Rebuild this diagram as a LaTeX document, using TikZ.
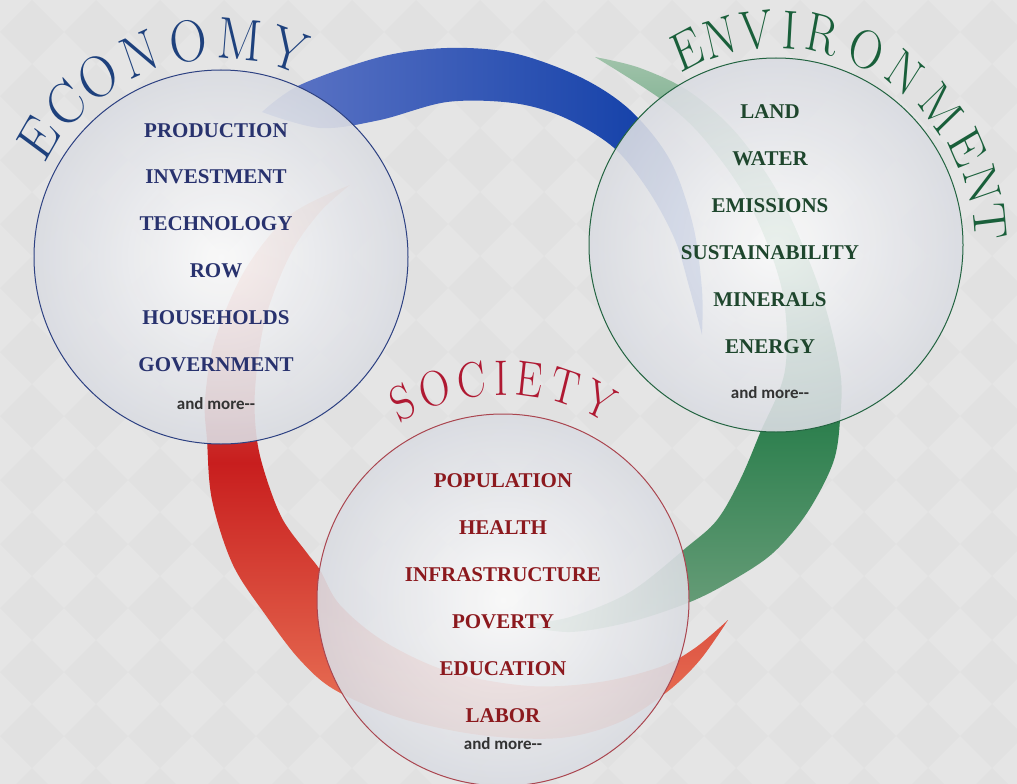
\documentclass[tikz,border=0pt]{standalone}
\usepackage{fontspec}
\usetikzlibrary{calc}
\newfontfamily\itemfont{Liberation Serif}
\newfontfamily\morefont{Carlito}
\definecolor{bgA}{RGB}{225,225,225}
\definecolor{bgB}{RGB}{229,229,229}
\definecolor{econT}{RGB}{30,65,125}
\definecolor{econI}{RGB}{40,50,110}
\definecolor{econL}{RGB}{45,65,130}
\definecolor{envT}{RGB}{25,95,58}
\definecolor{envI}{RGB}{30,70,45}
\definecolor{envL}{RGB}{35,100,65}
\definecolor{socT}{RGB}{175,25,50}
\definecolor{socI}{RGB}{140,25,30}
\definecolor{socL}{RGB}{170,70,80}
\definecolor{blueA}{RGB}{95,118,198}
\definecolor{blueB}{RGB}{10,58,165}
\definecolor{redA}{RGB}{225,165,140}
\definecolor{redM}{RGB}{200,30,30}
\definecolor{redB}{RGB}{235,120,90}
\definecolor{grnA}{RGB}{160,195,170}
\definecolor{grnM}{RGB}{20,115,60}
\definecolor{grnB}{RGB}{110,160,125}
\definecolor{ballIn}{RGB}{251,251,251}
\definecolor{ballOut}{RGB}{218,220,226}
\begin{document}
\begin{tikzpicture}[x=1pt,y=-1pt,
  item/.style={font=\itemfont\bfseries\fontsize{21}{21}\selectfont, anchor=base, inner sep=0pt},
  more/.style={font=\morefont\bfseries\fontsize{17}{17}\selectfont, text=black!80, anchor=base, inner sep=0pt},
  ttl/.style={inner sep=0pt, anchor=center},
  ball/.style={inner color=ballIn, outer color=ballOut, opacity=0.9},
  rim/.style={line width=1pt},
  smoothplot/.style={smooth, tension=0.55}
]
\useasboundingbox (0,0) rectangle (1017,784);
\clip (0,0) rectangle (1017,784);
\fill[bgA] (0,0) rectangle (1017,784);
\foreach \i in {0,...,16} \foreach \j in {0,...,13}
  \fill[bgB] (64*\i-32,64*\j) -- (64*\i,64*\j-32) -- (64*\i+32,64*\j) -- (64*\i,64*\j+32) -- cycle;

\coordinate (E) at (221,257);
\coordinate (V) at (776,245);
\coordinate (S) at (503,600);

% blue swoosh
\shade[left color=blueA, right color=blueB]
  plot[smoothplot] coordinates {(262,112) (300,85) (380,57) (447,48) (513,53) (580,77) (630,110) (670,160) (693,225) (702,290) (702,335)}
  -- plot[smoothplot] coordinates {(702,335) (690,290) (675,240) (648,190) (613,147) (563,117) (513,103) (447,102) (380,120) (320,128) (262,112)}
  -- cycle;
% red swoosh
\shade[top color=redA, bottom color=redB, middle color=redM]
  plot[smoothplot] coordinates {(350,185) (290,215) (245,270) (215,340) (205,400) (207,440) (212,500) (233,565) (267,617) (300,660) (335,690) (400,718) (480,735) (560,738) (620,722) (667,692) (700,660) (728,620)}
  -- plot[smoothplot] coordinates {(728,620) (695,648) (660,667) (600,682) (530,686) (450,672) (385,642) (340,605) (320,570) (307,553) (283,520) (267,480) (257,440) (255,390) (265,320) (290,255) (320,212) (350,185)}
  -- cycle;
% green swoosh
\shade[top color=grnA, bottom color=grnB, middle color=grnM]
  plot[smoothplot] coordinates {(595,57) (640,68) (690,92) (738,135) (782,200) (820,290) (840,370) (840,420) (833,463) (807,513) (773,553) (733,580) (690,602) (630,622) (570,632) (520,625)}
  -- plot[smoothplot] coordinates {(520,625) (570,617) (630,592) (687,547) (717,520) (740,480) (760,433) (785,370) (782,290) (750,205) (705,140) (662,100) (595,57)}
  -- cycle;

% spheres
\shade[ball] (E) circle[radius=187];
\draw[econL, rim] (E) circle[radius=187];
\shade[ball] (V) circle[radius=187];
\draw[envL, rim] (V) circle[radius=187];
\shade[ball] (S) circle[radius=186];
\draw[socL, rim] (S) circle[radius=186];

% curved titles, letter by letter
\foreach \ch/\a [count=\k] in {E/146.9, C/135.5, O/124.2, N/111.8, O/98.6, M/85.0, Y/71.7}
  \node[ttl, text=econT, font=\fontsize{59}{59}\selectfont, xscale=0.88, rotate=\a-90]
    (econ\k) at ($(E)+(-\a:218)$) {\ch};
\foreach \ch/\a [count=\k] in {E/114.5, N/105.0, V/95.3, I/86.3, R/77.6, O/65.0, N/53.0, M/39.5, E/27.0, N/16.5, T/6.1}
  \node[ttl, text=envT, font=\fontsize{55}{55}\selectfont, xscale=0.85, rotate=\a-90]
    (env\k) at ($(V)+(-\a:215)$) {\ch};
\foreach \ch/\a [count=\k] in {S/117.0, O/108.0, C/98.1, I/90.5, E/83.1, T/73.8, Y/64.1}
  \node[ttl, text=socT, font=\fontsize{50}{50}\selectfont, xscale=0.85, rotate=\a-90]
    (soc\k) at ($(S)+(-\a:222)$) {\ch};

% economy items
\node[item, text=econI] (e1) at (216,137) {PRODUCTION};
\node[item, text=econI] (e2) at (216,183) {INVESTMENT};
\node[item, text=econI] (e3) at (216,230) {TECHNOLOGY};
\node[item, text=econI] (e4) at (216,277) {ROW};
\node[item, text=econI] (e5) at (216,324) {HOUSEHOLDS};
\node[item, text=econI] (e6) at (216,371) {GOVERNMENT};
\node[more] (e7) at (216,409) {and more-{}-};

% environment items
\node[item, text=envI] (v1) at (770,118) {LAND};
\node[item, text=envI] (v2) at (770,165) {WATER};
\node[item, text=envI] (v3) at (770,212) {EMISSIONS};
\node[item, text=envI] (v4) at (770,259) {SUSTAINABILITY};
\node[item, text=envI] (v5) at (770,306) {MINERALS};
\node[item, text=envI] (v6) at (770,353) {ENERGY};
\node[more] (v7) at (770,398) {and more-{}-};

% society items
\node[item, text=socI] (s1) at (503,487) {POPULATION};
\node[item, text=socI] (s2) at (503,534) {HEALTH};
\node[item, text=socI] (s3) at (503,581) {INFRASTRUCTURE};
\node[item, text=socI] (s4) at (503,628) {POVERTY};
\node[item, text=socI] (s5) at (503,675) {EDUCATION};
\node[item, text=socI] (s6) at (503,722) {LABOR};
\node[more] (s7) at (503,749) {and more-{}-};
\end{tikzpicture}
\end{document}
